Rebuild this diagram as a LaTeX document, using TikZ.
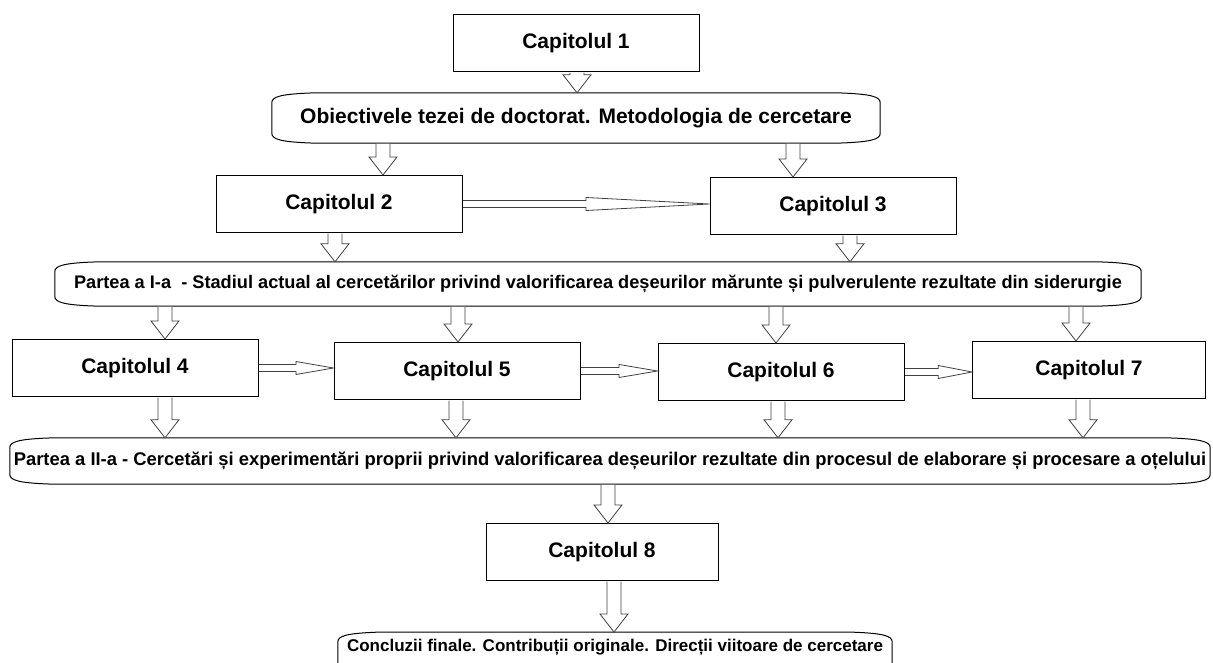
\documentclass[tikz,border=0pt]{standalone}
\usepackage{fontspec}
\setmainfont{Liberation Sans}
\usetikzlibrary{calc}

\tikzset{
  chap/.style={draw, line width=1pt, minimum width=246pt, minimum height=57pt, inner sep=0pt,
    font=\fontsize{21}{25}\selectfont\bfseries},
  part/.style={inner sep=0pt, font=\fontsize{17}{20}\selectfont\bfseries},
  blk/.style={draw=black!75, line width=.8pt, fill=white},
  scroll/.style={draw, line width=1pt}
}

% vertical block arrow: x, upper node, lower node
\newcommand{\vblk}[3]{%
  \draw[blk] let \p1=(#2.south), \p2=(#3.north) in
    ({#1pt-7pt},\y1-.6pt) -- ({#1pt-7pt},\y2+18pt) -- ({#1pt-14pt},\y2+18pt) -- ({#1pt},\y2)
    -- ({#1pt+14pt},\y2+18pt) -- ({#1pt+7pt},\y2+18pt) -- ({#1pt+7pt},\y1-.6pt);
}
% horizontal block arrow: left node, right node
\newcommand{\hblk}[2]{%
  \draw[blk] let \p1=(#1.east), \p2=(#2.west), \p3=($(\p1)!.5!(\p2)$) in
    (\x1+.6pt,\y1+3.5pt) -- (\x3,\y1+3.5pt) -- (\x3,\y1+6.5pt) -- (\x2,\y1)
    -- (\x3,\y1-6.5pt) -- (\x3,\y1-3.5pt) -- (\x1+.6pt,\y1-3.5pt);
}
% rounded scroll outline round a node
\newcommand{\scrollline}[1]{%
  \draw[scroll] let \p1=(#1.north west), \p2=(#1.south east) in
    (\x1+45pt,\y1) -- (\x2-45pt,\y1) .. controls (\x2-8pt,\y1-1pt) and (\x2,\y1-4pt) .. (\x2,\y1-10pt)
    -- (\x2,\y2+10pt) .. controls (\x2,\y2+4pt) and (\x2-8pt,\y2+1pt) .. (\x2-45pt,\y2)
    -- (\x1+45pt,\y2) .. controls (\x1+8pt,\y2+1pt) and (\x1,\y2+4pt) .. (\x1,\y2+10pt)
    -- (\x1,\y1-10pt) .. controls (\x1,\y1-4pt) and (\x1+8pt,\y1-1pt) .. (\x1+45pt,\y1) -- cycle;
}

\begin{document}
\begin{tikzpicture}[x=1pt, y=-1pt]

\useasboundingbox (0,0) rectangle (1213,663);
\clip (0,0) rectangle (1213,663);

\node[chap] (cap1) at (576,43) {Capitolul 1};
\node[part, minimum width=608pt, minimum height=50pt, font=\fontsize{21}{25}\selectfont\bfseries] (obj) at (576,118)
  {Obiectivele tezei de doctorat. Metodologia de cercetare};
\node[chap] (cap2) at (339,204) {Capitolul 2};
\node[chap] (cap3) at (833,206) {Capitolul 3};
\node[part, minimum width=1086pt, minimum height=44pt, font=\fontsize{18.2}{21}\selectfont\bfseries] (part1) at (598,284)
  {Partea a I-a\ \ - Stadiul actual al cercetărilor privind valorificarea deșeurilor mărunte și pulverulente rezultate din siderurgie};
\node[chap] (cap4) at (135,368) {Capitolul 4};
\node[chap] (cap5) at (457,371) {Capitolul 5};
\node[chap] (cap6) at (781,372) {Capitolul 6};
\node[chap, minimum width=233pt] (cap7) at (1089,370) {Capitolul 7};
\node[part, minimum width=1200pt, minimum height=46pt, font=\fontsize{18.4}{21}\selectfont\bfseries] (part2) at (610,461)
  {Partea a II-a - Cercetări și experimentări proprii privind valorificarea deșeurilor rezultate din procesul de elaborare și procesare a oțelului};
\node[chap, minimum width=232pt] (cap8) at (602,552) {Capitolul 8};
\node[part, minimum width=554pt, text height=19pt, text depth=35pt, anchor=north] (concl) at (615,632)
  {Concluzii finale. Contribuții originale. Direcții viitoare de cercetare};

\scrollline{obj}
\scrollline{part1}
\scrollline{part2}
\scrollline{concl}

\vblk{577}{cap1}{obj}
\vblk{383}{obj}{cap2}
\vblk{793}{obj}{cap3}
\hblk{cap2}{cap3}
\vblk{335}{cap2}{part1}
\vblk{850}{cap3}{part1}

\vblk{165}{part1}{cap4}
\vblk{458}{part1}{cap5}
\vblk{776}{part1}{cap6}
\vblk{1076}{part1}{cap7}
\hblk{cap4}{cap5}
\hblk{cap5}{cap6}
\hblk{cap6}{cap7}
\vblk{165}{cap4}{part2}
\vblk{456}{cap5}{part2}
\vblk{778}{cap6}{part2}
\vblk{1083}{cap7}{part2}

\vblk{608}{part2}{cap8}
\vblk{614}{cap8}{concl}

\end{tikzpicture}
\end{document}
